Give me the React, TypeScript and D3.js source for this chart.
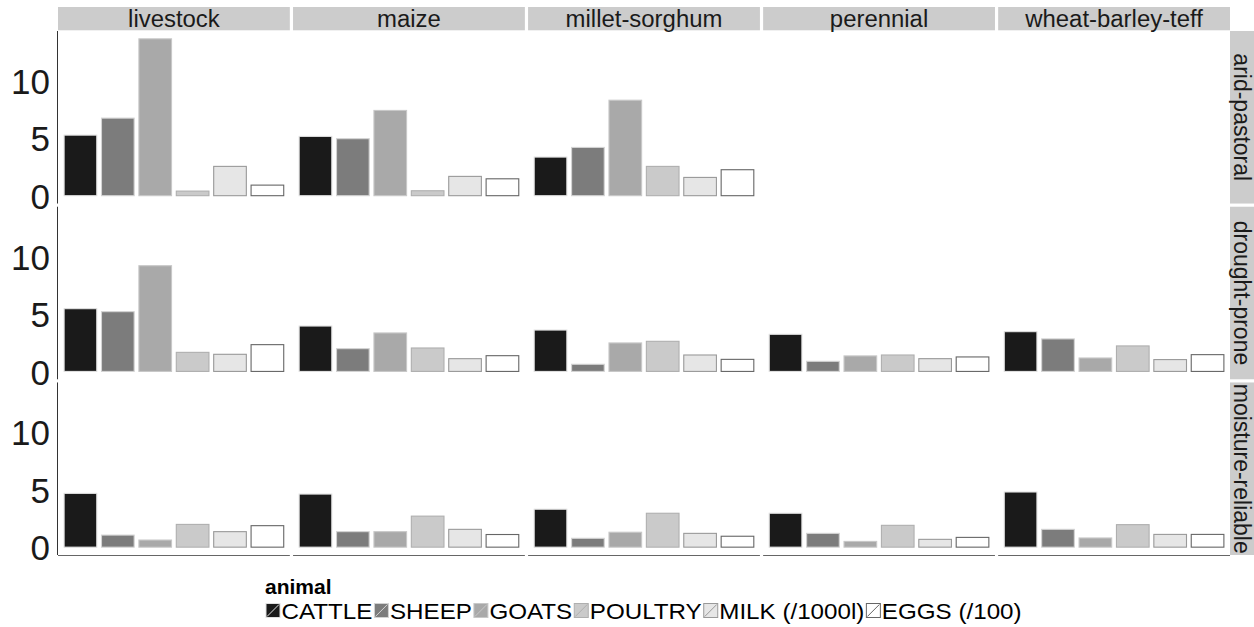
import React, { useEffect, useRef } from "react";
import * as d3 from "d3";

const animals = ["CATTLE", "SHEEP", "GOATS", "POULTRY", "MILK (/1000l)", "EGGS (/100)"];
const systems = ["livestock", "maize", "millet-sorghum", "perennial", "wheat-barley-teff"];
const zones = ["arid-pastoral", "drought-prone", "moisture-reliable"];

// values per system, in animal order; null = no data in that panel
const aridPastoral: (number[] | null)[] = [
  [5.27, 6.75, 13.65, 0.4, 2.55, 0.92],
  [5.16, 4.96, 7.42, 0.43, 1.68, 1.47],
  [3.36, 4.2, 8.31, 2.55, 1.59, 2.26],
  null,
  null,
];
const droughtProne: (number[] | null)[] = [
  [5.46, 5.2, 9.2, 1.66, 1.49, 2.33],
  [3.95, 1.98, 3.35, 2.04, 1.11, 1.37],
  [3.6, 0.62, 2.48, 2.62, 1.43, 1.05],
  [3.23, 0.88, 1.35, 1.43, 1.11, 1.26],
  [3.46, 2.83, 1.17, 2.22, 1.03, 1.46],
];
const moistureReliable: (number[] | null)[] = [
  [4.68, 1.05, 0.62, 1.98, 1.35, 1.87],
  [4.62, 1.35, 1.35, 2.7, 1.55, 1.1],
  [3.3, 0.77, 1.3, 2.95, 1.2, 0.95],
  [2.95, 1.2, 0.5, 1.9, 0.68, 0.85],
  [4.8, 1.55, 0.8, 1.96, 1.11, 1.11],
];
const yTicks = [0, 5, 10];
const fillColours = ["#1A1A1A", "#7C7C7C", "#A9A9A9", "#CACACA", "#E6E6E6", "#FFFFFF"];
const strokeColours = ["#E0E0E0", "#D3D3D3", "#C8C8C8", "#AFAFAF", "#999999", "#666666"];
const legendTitle = "animal";

export default function App() {
  const ref = useRef<SVGSVGElement>(null);
  useEffect(() => {
    const svg = d3.select(ref.current);
    svg.selectAll("*").remove();
    const font = "'Liberation Sans', Arial, Helvetica, sans-serif";
    const W = 1254, H = 627;
    const left = 58, top = 31, right = 1230, bottom = 555;
    const colGap = 3.2, rowGap = 3.2;
    const colW = (right - left - colGap * (systems.length - 1)) / systems.length;
    const rowH = (bottom - top - rowGap * (zones.length - 1)) / zones.length;
    const data = [aridPastoral, droughtProne, moistureReliable];
    const all = data.flat().filter((d) => d).flat() as number[];
    const yMax = d3.max(all) as number;
    const pad = yMax * 0.05;

    svg.append("rect").attr("width", W).attr("height", H).attr("fill", "#fff");

    const x = d3.scaleBand<string>().domain(animals).range([0, colW]).paddingInner(0.1).paddingOuter(0.15);
    const y = d3.scaleLinear().domain([-pad, yMax + pad]).range([rowH, 0]);
    const fill = d3.scaleOrdinal<string, string>().domain(animals).range(fillColours);
    const stroke = d3.scaleOrdinal<string, string>().domain(animals).range(strokeColours);

    // top strips
    systems.forEach((s, ci) => {
      const x0 = left + ci * (colW + colGap);
      svg.append("rect").attr("x", x0).attr("y", 7).attr("width", colW).attr("height", 23.3).attr("fill", "#CCCCCC");
      svg.append("text").attr("transform", `translate(${x0 + colW / 2},26.5) scale(1.04,1)`).attr("text-anchor", "middle")
        .attr("font-family", font).attr("font-size", 23).attr("fill", "#1A1A1A").text(s);
    });

    zones.forEach((z, ri) => {
      const y0 = top + ri * (rowH + rowGap);
      // right strip
      svg.append("rect").attr("x", right).attr("y", y0).attr("width", 24).attr("height", rowH).attr("fill", "#CCCCCC");
      svg.append("text").attr("transform", `translate(${right + 12},${y0 + rowH / 2}) rotate(90)`)
        .attr("text-anchor", "middle").attr("dy", "0.35em")
        .attr("font-family", font).attr("font-size", 23).attr("fill", "#1A1A1A").text(z);

      // y axis
      const ax = svg.append("g").attr("transform", `translate(${left},${y0})`)
        .call(d3.axisLeft(y).tickValues(yTicks).tickSize(0).tickPadding(8).tickFormat(d3.format("d")));
      ax.select(".domain").remove();
      ax.selectAll("text").attr("font-family", font).attr("font-size", 35).attr("fill", "#1A1A1A").attr("dy", "0.36em");
      svg.append("line").attr("x1", left - 0.5).attr("x2", left - 0.5).attr("y1", y0).attr("y2", y0 + rowH)
        .attr("stroke", "#333").attr("stroke-width", 1);

      systems.forEach((s, ci) => {
        const x0 = left + ci * (colW + colGap);
        const vals = data[ri][ci];
        const g = svg.append("g").attr("transform", `translate(${x0},${y0})`);
        if (vals) {
          g.selectAll("rect").data(animals.map((a, i) => ({ a, v: vals[i] }))).join("rect")
            .attr("x", (d) => (x(d.a) as number) + 0.5)
            .attr("width", x.bandwidth() - 1)
            .attr("y", (d) => y(d.v))
            .attr("height", (d) => y(0) - y(d.v))
            .attr("fill", (d) => fill(d.a))
            .attr("stroke", (d) => stroke(d.a))
            .attr("stroke-width", 1.1);
        }
        if (ri === zones.length - 1) {
          svg.append("line").attr("x1", x0).attr("x2", x0 + colW).attr("y1", y0 + rowH + 0.5).attr("y2", y0 + rowH + 0.5)
            .attr("stroke", "#666").attr("stroke-width", 1.2);
        }
      });
    });

    // legend
    const lg = svg.append("g");
    lg.append("text").attr("x", 265).attr("y", 594).attr("font-family", font).attr("font-size", 21)
      .attr("font-weight", "bold").attr("fill", "#000").text(legendTitle);
    let lx = 265.5;
    const ky = 603, ks = 15, sx = 1.125;
    animals.forEach((a) => {
      lg.append("rect").attr("x", lx + 0.5).attr("y", ky + 0.5).attr("width", ks - 1).attr("height", ks - 1)
        .attr("fill", fill(a)).attr("stroke", stroke(a)).attr("stroke-width", 1);
      lg.append("line").attr("x1", lx + 1.5).attr("y1", ky + ks - 1.5).attr("x2", lx + ks - 1.5).attr("y2", ky + 1.5)
        .attr("stroke", stroke(a)).attr("stroke-width", 1);
      const t = lg.append("text").attr("transform", `translate(${lx + ks + 1},${ky + ks + 0.5}) scale(${sx},1)`)
        .attr("font-family", font).attr("font-size", 21.5).attr("fill", "#000").text(a);
      const tw = (t.node() as SVGTextElement).getComputedTextLength() * sx;
      lx += ks + 1 + tw + 1.5;
    });
  }, []);
  return <svg ref={ref} width={1254} height={627} style={{ position: "absolute", left: 0, top: 0, display: "block" }} />;
}
